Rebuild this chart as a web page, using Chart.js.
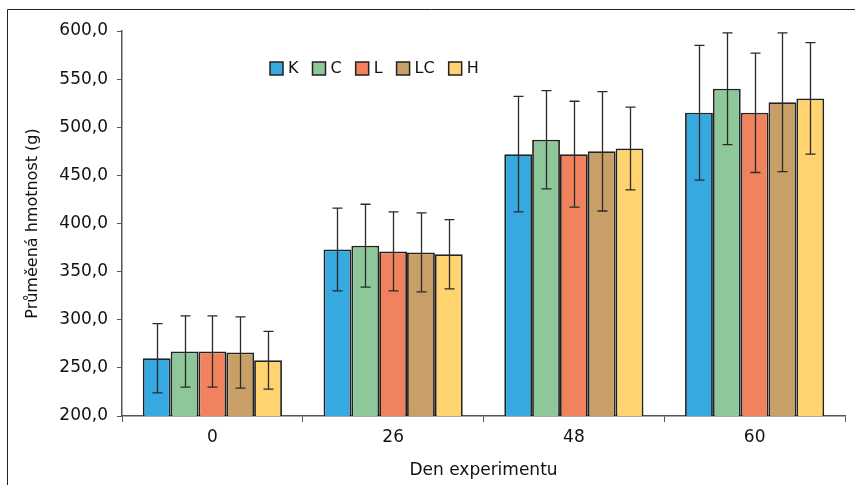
<!DOCTYPE html>
<html>
<head>
<meta charset="utf-8">
<script src="https://cdn.jsdelivr.net/npm/chart.js@4.4.1/dist/chart.umd.min.js"></script>
<style>
  html, body { margin: 0; padding: 0; background: #fff; }
  #wrap { width: 855px; height: 485px; position: relative; }
</style>
</head>
<body>
<div id="wrap"><canvas id="chart"></canvas></div>
<script>
// Den experimentu (x categories)
const days = ['0', '26', '48', '60'];
const groups = ['K', 'C', 'L', 'LC', 'H'];
const colors = ['#36a9e1', '#8ec799', '#f0825d', '#c99f68', '#ffd36f'];

// mean weight (g) per group, per day
const meanK  = [260, 373, 472, 515];
const meanC  = [267, 377, 487, 540];
const meanL  = [267, 371, 472, 515];
const meanLC = [266, 370, 475, 526];
const meanH  = [258, 368, 478, 530];

// standard deviations (error bars)
const sdK  = [36, 43, 60, 70];
const sdC  = [37, 43, 51, 58];
const sdL  = [37, 41, 55, 62];
const sdLC = [37, 41, 62, 72];
const sdH  = [30, 36, 43, 58];

const means = [meanK, meanC, meanL, meanLC, meanH];
const sds = [sdK, sdC, sdL, sdLC, sdH];

const FONT = 'DejaVu Sans';
const AXIS_COLOR = '#555';

// error bars drawn from the y scale
const errorBars = {
    id: 'errorBars',
    afterDatasetsDraw(chart) {
        const { ctx, scales: { y } } = chart;
        ctx.save();
        ctx.strokeStyle = '#2a2a2a';
        ctx.lineWidth = 1.3;
        chart.data.datasets.forEach((ds, i) => {
            const meta = chart.getDatasetMeta(i);
            meta.data.forEach((bar, j) => {
                const v = ds.data[j];
                const e = ds.errors[j];
                const yTop = y.getPixelForValue(v + e);
                const yBot = y.getPixelForValue(v - e);
                const x = Math.round(bar.x) + 0.5;
                ctx.beginPath();
                ctx.moveTo(x, yTop);
                ctx.lineTo(x, yBot);
                ctx.moveTo(x - 5, yTop);
                ctx.lineTo(x + 5, yTop);
                ctx.moveTo(x - 5, yBot);
                ctx.lineTo(x + 5, yBot);
                ctx.stroke();
            });
        });
        ctx.restore();
    }
};

// legend inside the plot, plus the frame lines at left and top
const customLegend = {
    id: 'customLegend',
    afterDraw(chart) {
        const ctx = chart.ctx;
        ctx.save();
        ctx.font = '16px "' + FONT + '"';
        ctx.textBaseline = 'middle';
        let x = 270;
        const y = 62;
        chart.data.datasets.forEach(ds => {
            ctx.fillStyle = ds.backgroundColor;
            ctx.fillRect(x, y, 13, 13);
            ctx.strokeStyle = '#222';
            ctx.lineWidth = 1.5;
            ctx.strokeRect(x, y, 13, 13);
            ctx.fillStyle = '#111';
            ctx.fillText(ds.label, x + 18, y + 7);
            x += 18 + ctx.measureText(ds.label).width + 14;
        });

        ctx.strokeStyle = '#222';
        ctx.lineWidth = 1;
        ctx.beginPath();
        ctx.moveTo(7.5, 485);
        ctx.lineTo(7.5, 9.5);
        ctx.lineTo(855, 9.5);
        ctx.stroke();
        ctx.restore();
    }
};

new Chart(document.getElementById('chart'), {
    type: 'bar',
    data: {
        labels: days,
        datasets: groups.map((g, i) => ({
            label: g,
            data: means[i],
            errors: sds[i],
            backgroundColor: colors[i],
            borderColor: '#222',
            borderWidth: 1.8,
            categoryPercentage: 0.77,
            barPercentage: 1
        }))
    },
    options: {
        responsive: true,
        maintainAspectRatio: false,
        animation: false,
        layout: {
            padding: { left: 0, right: 10, top: 31, bottom: 0 }
        },
        plugins: {
            legend: { display: false },
            tooltip: { enabled: false }
        },
        scales: {
            x: {
                afterFit: scale => { scale.height = 69; },
                grid: {
                    offset: true,
                    drawOnChartArea: false,
                    drawTicks: true,
                    tickLength: 6,
                    color: AXIS_COLOR
                },
                border: { color: AXIS_COLOR, width: 1.5 },
                ticks: {
                    color: '#111',
                    font: { family: FONT, size: 17 },
                    padding: 5
                },
                title: {
                    display: true,
                    text: 'Den experimentu',
                    color: '#111',
                    font: { family: FONT, size: 17 },
                    padding: { top: 0 }
                }
            },
            y: {
                min: 200,
                max: 600,
                afterFit: scale => { scale.width = 122; },
                grid: {
                    drawOnChartArea: false,
                    drawTicks: true,
                    tickLength: 5,
                    color: AXIS_COLOR
                },
                border: { color: AXIS_COLOR, width: 1.5 },
                ticks: {
                    stepSize: 50,
                    color: '#111',
                    font: { family: FONT, size: 17 },
                    padding: 9,
                    callback: v => v.toFixed(1).replace('.', ',')
                },
                title: {
                    display: true,
                    text: 'Průměená hmotnost (g)',
                    color: '#111',
                    font: { family: FONT, size: 16 },
                    padding: { top: 23, bottom: 0 }
                }
            }
        }
    },
    plugins: [errorBars, customLegend]
});
</script>
</body>
</html>
